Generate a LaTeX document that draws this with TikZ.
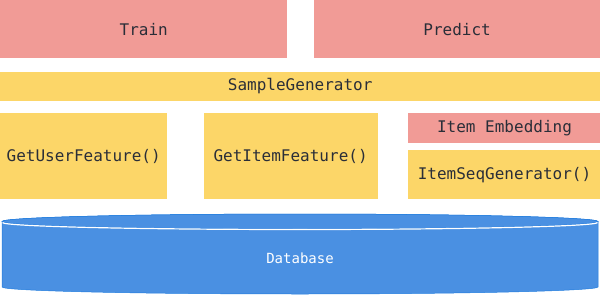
\documentclass[tikz,border=0pt]{standalone}
\usepackage{fontspec}
\setmonofont{DejaVu Sans Mono}
\usepackage{tikz}
\usetikzlibrary{positioning}
\definecolor{taskcolor}{RGB}{241,155,150}
\definecolor{genercolor}{RGB}{252,214,104}
\definecolor{dbcolor}{RGB}{74,144,226}
\definecolor{dbedge}{RGB}{32,124,222}
\definecolor{labelcolor}{RGB}{42,46,56}

\begin{document}
\begin{tikzpicture}[
    x=1pt, y=1pt,
    module/.style={rectangle, inner sep=0pt, anchor=north west, font=\ttfamily\fontsize{16}{19}\selectfont, text=labelcolor, align=center},
    task/.style={module, fill=taskcolor},
    gener/.style={module, fill=genercolor}
]
\useasboundingbox (0,0) rectangle (600,-297);

% Row 1: Tasks
\node[task, minimum width=287pt, minimum height=58pt] (train) at (0,0) {Train};
\node[task, minimum width=287pt, minimum height=58pt, right=26pt of train.north east, anchor=north west] (predict) {Predict};

% Row 2: Generator
\node[gener, minimum width=600pt, minimum height=29pt, below=13pt of train.south west, anchor=north west] (sample) {SampleGenerator};

% Row 3: Feature modules
\node[gener, minimum width=167pt, minimum height=86pt, below=12pt of sample.south west, anchor=north west] (userfeat) {GetUserFeature()};
\node[gener, minimum width=174pt, minimum height=86pt, right=36pt of userfeat.north east, anchor=north west] (itemfeat) {GetItemFeature()};
\node[task, minimum width=193pt, minimum height=30pt, right=30pt of itemfeat.north east, anchor=north west] (itememb) {Item Embedding};
\node[gener, minimum width=193pt, minimum height=49pt, below=7pt of itememb.south west, anchor=north west] (itemseq) {ItemSeqGenerator()};

% Database cylinder
\filldraw[fill=dbcolor, draw=dbedge, line width=0.5pt]
    (2,-221.5) -- (2,-287) arc[start angle=180, end angle=360, x radius=298, y radius=7]
    -- (598,-221.5) arc[start angle=0, end angle=180, x radius=298, y radius=7.5] -- cycle;
\filldraw[fill=dbcolor, draw=dbedge, line width=0.5pt] (300,-221.5) ellipse[x radius=298, y radius=7.5];
\draw[white, line width=1.2pt] (2.5,-222.5) arc[start angle=180, end angle=360, x radius=297.5, y radius=7];
\node[font=\ttfamily\fontsize{14}{17}\selectfont, text=white] (db) at (300,-258) {Database};

\end{tikzpicture}
\end{document}
